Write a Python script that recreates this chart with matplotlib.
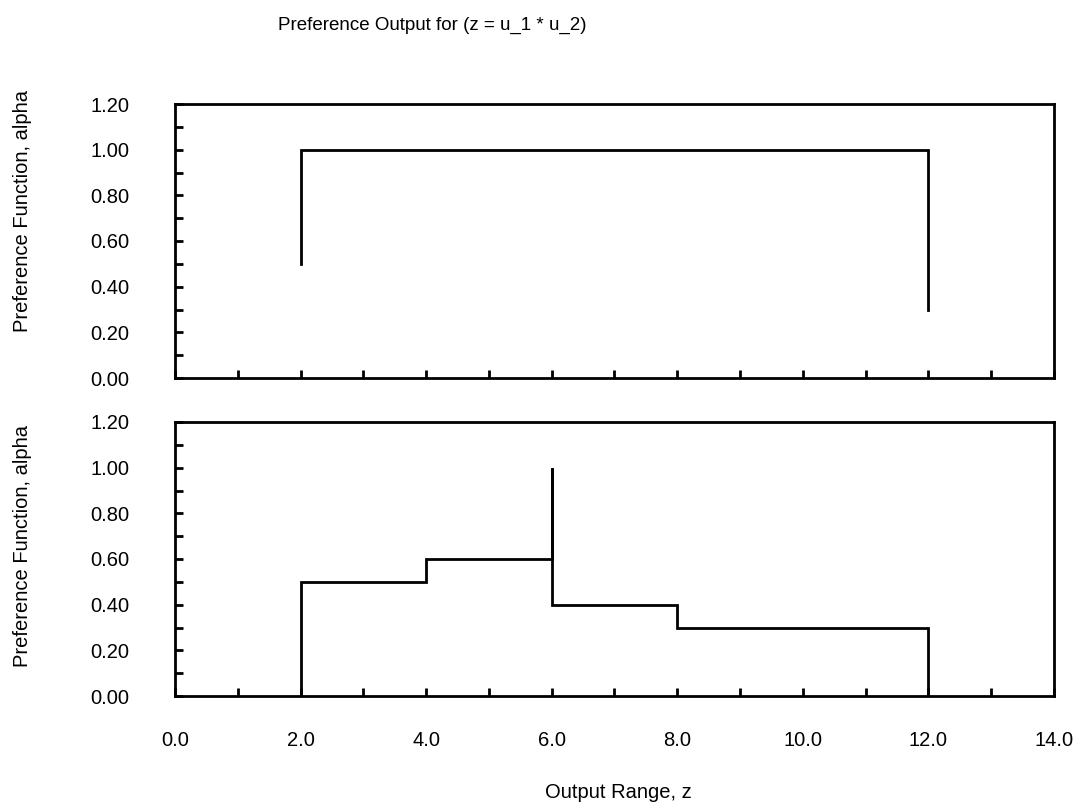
import matplotlib
matplotlib.use("Agg")
import matplotlib.pyplot as plt
from matplotlib.ticker import MultipleLocator, FormatStrFormatter

plt.rcParams['font.family'] = ['Liberation Sans', 'DejaVu Sans']

# ── Data ──
top_x = [2, 2, 12, 12]
top_y = [0.5, 1.0, 1.0, 0.3]

bot_x = [2, 2, 4, 4, 6, 6, 6, 8, 8, 12, 12]
bot_y = [0.0, 0.5, 0.5, 0.6, 0.6, 1.0, 0.4, 0.4, 0.3, 0.3, 0.0]

TITLE = "Preference Output for (z = u_1 * u_2)"
YLABEL = "Preference Function, alpha"
XLABEL = "Output Range, z"

W, H = 1082, 810
fig = plt.figure(figsize=(W / 100, H / 100), dpi=100, facecolor="white")

def px_axes(left, top, right, bottom):
    return fig.add_axes([left / W, 1 - bottom / H, (right - left) / W, (bottom - top) / H])

ax_top = px_axes(175, 104, 1054, 378)
ax_bot = px_axes(175, 422, 1054, 696)

ax_top.plot(top_x, top_y, color="black", linewidth=2.0, solid_joinstyle="miter")
ax_bot.plot(bot_x, bot_y, color="black", linewidth=2.0, solid_joinstyle="miter")

for ax in (ax_top, ax_bot):
    ax.set_xlim(0, 14)
    ax.set_ylim(0, 1.2)
    for s in ax.spines.values():
        s.set_linewidth(2.0)
        s.set_color("black")
    ax.yaxis.set_major_locator(MultipleLocator(0.2))
    ax.yaxis.set_minor_locator(MultipleLocator(0.1))
    ax.yaxis.set_major_formatter(FormatStrFormatter("%.2f"))
    ax.xaxis.set_major_locator(MultipleLocator(2))
    ax.xaxis.set_minor_locator(MultipleLocator(1))
    ax.xaxis.set_major_formatter(FormatStrFormatter("%.1f"))
    ax.tick_params(which="both", direction="in", length=6, width=2.0,
                   top=False, right=False, labelsize=14.5)
    ax.tick_params(axis="y", pad=33)
    ax.tick_params(axis="x", pad=25)

ax_top.tick_params(axis="x", labelbottom=False)

fig.text(432 / W, 1 - 25 / H, TITLE, ha="center", va="center", fontsize=13.5)
fig.text(23 / W, 1 - 211 / H, YLABEL, ha="center", va="center", rotation=90, fontsize=14.5)
fig.text(23 / W, 1 - 546 / H, YLABEL, ha="center", va="center", rotation=90, fontsize=14.5)
fig.text(618 / W, 1 - 792 / H, XLABEL, ha="center", va="center", fontsize=14.5)

fig.savefig("out.png", dpi=100, facecolor="white")
